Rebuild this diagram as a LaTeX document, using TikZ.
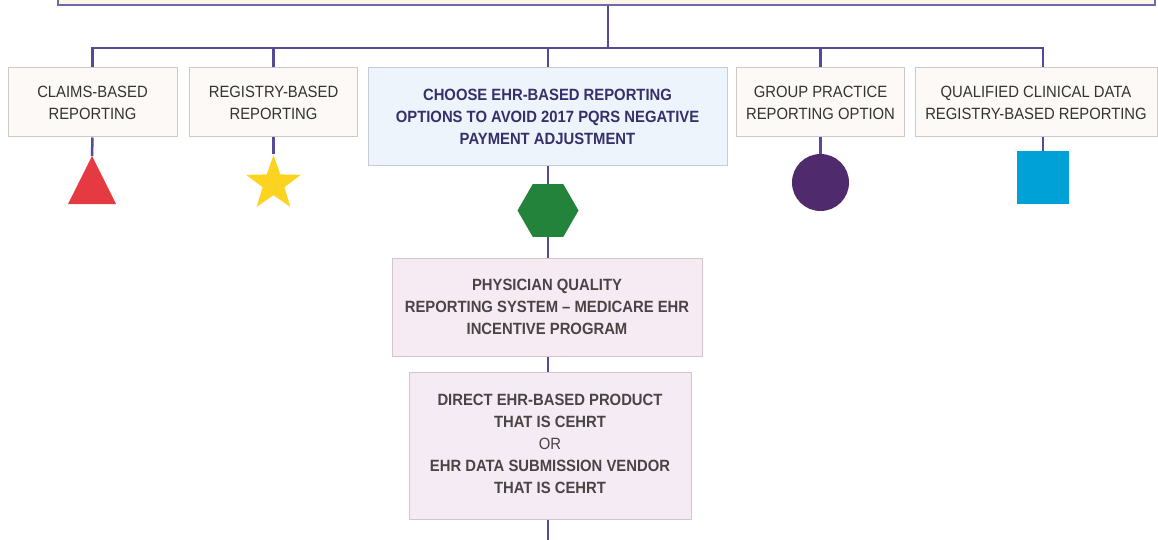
\documentclass[tikz,border=0pt]{standalone}
\usepackage{fontspec}
\setmainfont{Liberation Sans}
\newfontfamily\narrowsans[FakeStretch=0.91]{Liberation Sans}
\usetikzlibrary{shapes.geometric}
\definecolor{linecol}{HTML}{554A95}
\definecolor{smallfill}{HTML}{FCF9F7}
\definecolor{smalldraw}{HTML}{CFC8C6}
\definecolor{ehrfill}{HTML}{EEF4FB}
\definecolor{ehrdraw}{HTML}{C9CBD0}
\definecolor{pinkfill}{HTML}{F7EBF3}
\definecolor{lavfill}{HTML}{F4EBF4}
\definecolor{pinkdraw}{HTML}{D0C6CB}
\definecolor{topfill}{HTML}{FDF6E6}
\definecolor{topdraw}{HTML}{7068AD}
\definecolor{txtgray}{HTML}{333333}
\definecolor{txtnavy}{HTML}{35306A}
\definecolor{txtbold}{HTML}{4A4444}
\definecolor{shred}{HTML}{E63A43}
\definecolor{shyellow}{HTML}{FDD322}
\definecolor{shgreen}{HTML}{23833A}
\definecolor{shpurple}{HTML}{4F2A6C}
\definecolor{shblue}{HTML}{00A1D7}
\tikzset{
  conn/.style={draw=linecol, line width=2.5pt},
  smallbox/.style={rectangle, draw=smalldraw, line width=1pt, fill=smallfill,
    minimum height=69pt, inner sep=0pt, align=center, text=txtgray,
    font=\narrowsans\fontsize{16.3}{22}\selectfont},
  bigbox/.style={rectangle, line width=1pt, inner sep=0pt, align=center,
    font=\narrowsans\bfseries\fontsize{16.3}{22}\selectfont},
}
\begin{document}
\begin{tikzpicture}[x=1pt,y=-1pt]
\useasboundingbox (0,0) rectangle (1158,540);
% top box
\node[rectangle, draw=topdraw, line width=1.8pt, fill=topfill, minimum width=1097pt, minimum height=40pt, inner sep=0pt] (top) at (606.5,-15) {};
\coordinate (bus) at (608,48);
% level boxes
\node[smallbox, minimum width=169pt] (claims) at (92.5,102.5) {CLAIMS-BASED\\REPORTING};
\node[smallbox, minimum width=168pt] (registry) at (273.5,102.5) {REGISTRY-BASED\\REPORTING};
\node[bigbox, draw=ehrdraw, fill=ehrfill, text=txtnavy, minimum width=359pt, minimum height=98pt] (ehr) at (547.5,117) {CHOOSE EHR-BASED REPORTING\\OPTIONS TO AVOID 2017 PQRS NEGATIVE\\PAYMENT ADJUSTMENT};
\node[smallbox, minimum width=168pt] (group) at (820.5,102.5) {GROUP PRACTICE\\REPORTING OPTION};
\node[smallbox, minimum width=242pt] (qcd) at (1036,102.5) {QUALIFIED CLINICAL DATA\\REGISTRY-BASED REPORTING};
% shapes
\coordinate (tri) at (92,156);
\fill[shred] (tri) -- (116,204) -- (68,204) -- cycle;
\node[star, star points=5, star point ratio=2.5, minimum size=57.4pt, inner sep=0pt, fill=shyellow] (star) at (273.5,183.7) {};
\node[regular polygon, regular polygon sides=6, minimum size=61pt, inner sep=0pt, fill=shgreen] (hex) at (548,210.5) {};
\node[circle, minimum size=57pt, inner sep=0pt, fill=shpurple] (circ) at (820.5,182.5) {};
\node[rectangle, minimum size=52pt, inner sep=0pt, fill=shblue] (sq) at (1043,177.5) {};
% lower boxes
\node[bigbox, draw=pinkdraw, fill=pinkfill, text=txtbold, minimum width=310pt, minimum height=98pt] (pqrs) at (547,307) {PHYSICIAN QUALITY\\REPORTING SYSTEM \textendash{} MEDICARE EHR\\INCENTIVE PROGRAM};
\node[bigbox, draw=pinkdraw, fill=lavfill, text=txtbold, minimum width=282pt, minimum height=147pt, text depth=4pt] (direct) at (550,445.5) {DIRECT EHR-BASED PRODUCT\\THAT IS CEHRT\\{\mdseries OR}\\EHR DATA SUBMISSION VENDOR\\THAT IS CEHRT};
\coordinate (bottom) at (548,541);
% connectors
\draw[conn] (top.south -| bus) -- (bus);
\draw[conn] (claims.north) |- (bus);
\draw[conn] (bus) -| (sq.north |- qcd.north);
\draw[conn] (registry.north) -- (registry.north |- bus);
\draw[conn] (hex.north |- ehr.north) -- (hex.north |- bus);
\draw[conn] (group.north) -- (group.north |- bus);
\draw[conn] (claims.south) -- (tri);
\draw[conn] (registry.south) -- (star.north);
\draw[conn] (ehr.south -| hex.north) -- (hex.north);
\draw[conn] (group.south) -- (circ.north);
\draw[conn] (sq.north |- qcd.south) -- (sq.north);
\draw[conn] (hex.south) -- (hex.south |- pqrs.north);
\draw[conn] (hex.south |- pqrs.south) -- (hex.south |- direct.north);
\draw[conn] (hex.south |- direct.south) -- (bottom);
\end{tikzpicture}
\end{document}
